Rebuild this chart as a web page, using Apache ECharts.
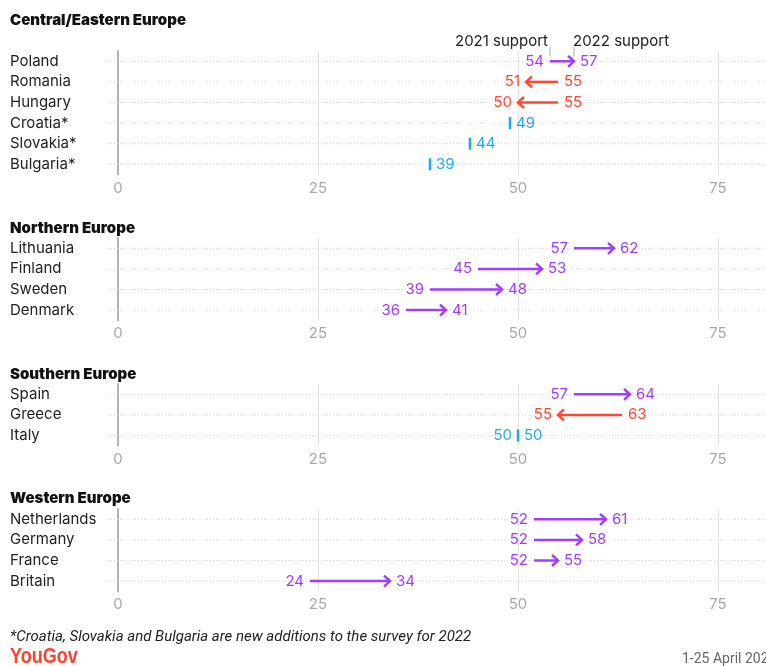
<!DOCTYPE html>
<html><head><meta charset="utf-8">
<script src="https://cdn.jsdelivr.net/npm/echarts@6/dist/echarts.min.js"></script>
<style>html,body{margin:0;padding:0;background:#fff}#c{width:766px;height:666px}</style>
</head><body><div id="c"></div><script>
// ---- data ----
const regionTitles = ['Central/Eastern Europe', 'Northern Europe', 'Southern Europe', 'Western Europe'];
const centralCountries = ['Poland', 'Romania', 'Hungary', 'Croatia*', 'Slovakia*', 'Bulgaria*'];
const central2021 = [54, 55, 55, null, null, null];
const central2022 = [57, 51, 50, 49, 44, 39];
const northernCountries = ['Lithuania', 'Finland', 'Sweden', 'Denmark'];
const northern2021 = [57, 45, 39, 36];
const northern2022 = [62, 53, 48, 41];
const southernCountries = ['Spain', 'Greece', 'Italy'];
const southern2021 = [57, 63, 50];
const southern2022 = [64, 55, 50];
const westernCountries = ['Netherlands', 'Germany', 'France', 'Britain'];
const western2021 = [52, 52, 52, 24];
const western2022 = [61, 58, 55, 34];
const xTicks = [0, 25, 50, 75];
const legendLabels = ['2021 support', '2022 support'];
const footnote = '*Croatia, Slovakia and Bulgaria are new additions to the survey for 2022';
const dateText = '1-25 April 2022';

const panels = [
  {countries: centralCountries, v21: central2021, v22: central2022},
  {countries: northernCountries, v21: northern2021, v22: northern2022},
  {countries: southernCountries, v21: southern2021, v22: southern2022},
  {countries: westernCountries, v21: western2021, v22: western2022}
];

// ---- layout / style ----
const ROW = 20.6;
const tops = [51, 238, 384, 509];
const titleY = [20, 228, 374, 498];
const PURPLE = '#a23cff', RED = '#ff4733', BLUE = '#1fa9ef';
const FONT = 'Inter, "Noto Sans", sans-serif';

const grids = [], xAxes = [], yAxes = [], series = [], graphics = [];

function txt(x, y, t, align, col) {
  return {type: 'text', style: {x: x, y: y, text: String(t), fill: col, fontSize: 15, fontFamily: FONT, align: align, verticalAlign: 'middle'}};
}

function makeRender(pi) {
  return function (params, api) {
    const row = api.value(0), a = api.value(1), b = api.value(2);
    const cs = params.coordSys;
    const y = api.coord([0, row])[1];
    const xb = api.coord([b, row])[0];
    const ch = [];
    ch.push({type: 'line', shape: {x1: cs.x - 10, y1: y, x2: cs.x + cs.width, y2: y},
      style: {stroke: '#d6d6d6', lineWidth: 1, lineDash: [1, 2]}, z2: 0});
    if (isNaN(a) || a === b) {
      ch.push({type: 'line', shape: {x1: xb, y1: y - 6, x2: xb, y2: y + 6}, style: {stroke: BLUE, lineWidth: 2.6}});
      ch.push(txt(xb + 6, y, b, 'left', BLUE));
      if (!isNaN(a)) ch.push(txt(xb - 6, y, a, 'right', BLUE));
    } else {
      const xa = api.coord([a, row])[0];
      const col = b > a ? PURPLE : RED;
      const dir = b > a ? 1 : -1;
      ch.push({type: 'line', shape: {x1: xa, y1: y, x2: xb - dir * 1, y2: y}, style: {stroke: col, lineWidth: 2.5}});
      ch.push({type: 'polyline', shape: {points: [[xb - dir * 6, y - 5.5], [xb, y], [xb - dir * 6, y + 5.5]]},
        style: {stroke: col, lineWidth: 2.5, fill: null, lineJoin: 'miter'}});
      const lo = Math.min(a, b), hi = Math.max(a, b);
      ch.push(txt(Math.min(xa, xb) - 6, y, lo, 'right', col));
      ch.push(txt(Math.max(xa, xb) + 6, y, hi, 'left', col));
      if (pi === 0 && row === 0) {
        ch.push({type: 'line', shape: {x1: xa, y1: y - 14, x2: xa, y2: y - 5}, style: {stroke: '#aaa', lineWidth: 1}});
        ch.push({type: 'line', shape: {x1: xb, y1: y - 14, x2: xb, y2: y - 5}, style: {stroke: '#aaa', lineWidth: 1}});
        ch.push(txt(xa - 2, y - 20, legendLabels[0], 'right', '#222'));
        ch.push(txt(xb - 1, y - 20, legendLabels[1], 'left', '#222'));
      }
    }
    return {type: 'group', children: ch};
  };
}

panels.forEach(function (p, i) {
  grids.push({left: 118, right: 0, top: tops[i], height: ROW * p.countries.length, containLabel: false});
  xAxes.push({
    type: 'value', gridIndex: i, min: 0, max: 81, interval: 25,
    axisLine: {show: false}, axisTick: {show: false},
    axisLabel: {color: '#a8a8a8', fontSize: 15, fontFamily: FONT, margin: 6, showMaxLabel: false,
      formatter: function (v) { return xTicks.indexOf(v) >= 0 ? String(v) : ''; }},
    splitLine: {lineStyle: {color: '#e4e4e4', width: 1}}
  });
  yAxes.push({
    type: 'category', gridIndex: i, inverse: true, data: p.countries,
    axisLine: {show: true, lineStyle: {color: '#b4b4b4', width: 2}},
    axisTick: {show: false},
    axisLabel: {align: 'left', margin: 108, color: '#222', fontSize: 15, fontFamily: FONT},
    splitLine: {show: false}
  });
  series.push({
    type: 'custom', xAxisIndex: i, yAxisIndex: i, clip: false,
    renderItem: makeRender(i),
    encode: {x: [1, 2], y: 0},
    data: p.countries.map(function (c, k) {
      return [k, p.v21[k] == null ? '-' : p.v21[k], p.v22[k]];
    })
  });
  graphics.push({type: 'text', x: 10, y: titleY[i],
    style: {text: regionTitles[i], fill: '#111', fontSize: 15, fontWeight: 900, fontFamily: FONT, verticalAlign: 'middle'}});
});

graphics.push({type: 'text', x: 10, y: 637,
  style: {text: footnote, fill: '#222', fontSize: 15, fontStyle: 'italic', fontFamily: 'Roboto, sans-serif', verticalAlign: 'middle'}});
graphics.push({type: 'text', x: 10, y: 657, scaleX: 0.82,
  style: {text: 'YouGov', fill: '#ff412c', fontSize: 22, fontWeight: 'bold', fontFamily: '"Liberation Sans", sans-serif', verticalAlign: 'middle'}});
graphics.push({type: 'text', x: 682, y: 659,
  style: {text: dateText, fill: '#666', fontSize: 14, fontFamily: 'Roboto, sans-serif', verticalAlign: 'middle'}});

const chart = echarts.init(document.getElementById('c'), null, {renderer: 'canvas'});
chart.setOption({
  animation: false,
  backgroundColor: '#fff',
  grid: grids, xAxis: xAxes, yAxis: yAxes, series: series, graphic: graphics
});
</script></body></html>
